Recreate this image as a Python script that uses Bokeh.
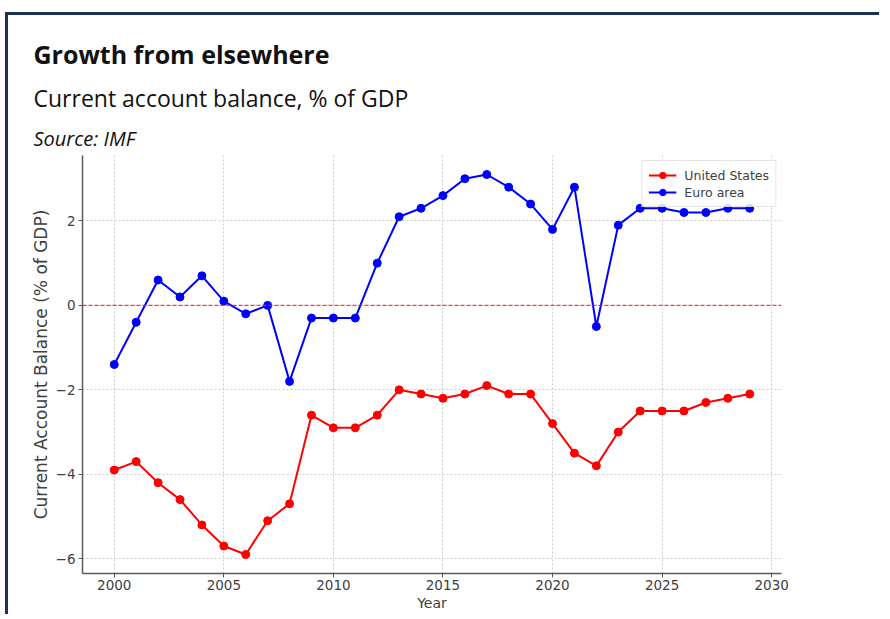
from bokeh.plotting import figure
from bokeh.models import Title, Span, Legend, LegendItem, Range1d, FixedTicker
from bokeh.embed import file_html
from bokeh.resources import INLINE

years = list(range(2000, 2030))
us = [-3.9, -3.7, -4.2, -4.6, -5.2, -5.7, -5.9, -5.1, -4.7, -2.6,
      -2.9, -2.9, -2.6, -2.0, -2.1, -2.2, -2.1, -1.9, -2.1, -2.1,
      -2.8, -3.5, -3.8, -3.0, -2.5, -2.5, -2.5, -2.3, -2.2, -2.1]
euro = [-1.4, -0.4, 0.6, 0.2, 0.7, 0.1, -0.2, 0.0, -1.8, -0.3,
        -0.3, -0.3, 1.0, 2.1, 2.3, 2.6, 3.0, 3.1, 2.8, 2.4,
        1.8, 2.8, -0.5, 1.9, 2.3, 2.3, 2.2, 2.2, 2.3, 2.3]
x_ticks = [2000, 2005, 2010, 2015, 2020, 2025, 2030]
y_ticks = [-6, -4, -2, 0, 2]
y_tick_labels = {-6: "\u22126", -4: "\u22124", -2: "\u22122", 0: "0", 2: "2"}

TXT = "#404040"
FONT = "DejaVu Sans"

p = figure(width=874, height=602, output_backend="svg", toolbar_location=None,
           x_range=Range1d(1998.55, 2030.45), y_range=Range1d(-6.35, 3.55),
           min_border_left=74, min_border_right=101, min_border_bottom=44,
           min_border_top=140)
p.styles = {"border-left": "3px solid #1c3157", "border-top": "3px solid #1c3157",
            "margin-left": "5px", "margin-top": "12px"}
p.outline_line_color = None
p.background_fill_color = "white"
p.border_fill_color = "white"

# titles (added nearest-first)
p.add_layout(Title(text="Source: IMF", text_font="Open Sans", text_font_size="20px",
                   text_font_style="italic", text_color="#111111", align="left",
                   offset=-49, standoff=8), "above")
p.add_layout(Title(text="Current account balance, % of GDP", text_font="Open Sans",
                   text_font_size="23px", text_font_style="normal", text_color="#111111",
                   align="left", offset=-49, standoff=9), "above")
p.add_layout(Title(text="Growth from elsewhere", text_font="Open Sans",
                   text_font_size="25px", text_font_style="bold", text_color="#111111",
                   align="left", offset=-49, standoff=9), "above")

# grid
for g in (p.xgrid, p.ygrid):
    g.grid_line_color = "#cccccc"
    g.grid_line_dash = "2 2"
    g.grid_line_width = 1

# axes
for ax in (p.xaxis, p.yaxis):
    ax.axis_line_color = "#5a5a5a"
    ax.axis_line_width = 1.5
    ax.major_tick_line_color = "#5a5a5a"
    ax.major_tick_out = 4
    ax.major_tick_in = 0
    ax.minor_tick_line_color = None
    ax.major_label_text_font = FONT
    ax.major_label_text_font_size = "13.5px"
    ax.major_label_text_color = TXT
    ax.axis_label_text_font = FONT
    ax.axis_label_text_font_style = "normal"
    ax.axis_label_text_color = TXT

p.xaxis.ticker = FixedTicker(ticks=x_ticks)
p.yaxis.ticker = FixedTicker(ticks=y_ticks)
p.yaxis.major_label_overrides = y_tick_labels
p.xaxis.major_label_standoff = 2
p.yaxis.major_label_standoff = 3
p.xaxis.axis_label = "Year"
p.xaxis.axis_label_text_font_size = "14px"
p.xaxis.axis_label_standoff = 2
p.yaxis.axis_label = "Current Account Balance (% of GDP)"
p.yaxis.axis_label_text_font_size = "17px"
p.yaxis.axis_label_standoff = 2

# zero line
p.add_layout(Span(location=0, dimension="width", line_color="#ff2020",
                  line_dash="4 2", line_width=1.2, line_alpha=0.85))

l_us = p.line(years, us, line_color="#ff0000", line_width=2)
s_us = p.scatter(years, us, size=8, fill_color="#ff0000", line_color="#ff0000")
l_eu = p.line(years, euro, line_color="#0000ff", line_width=2)
s_eu = p.scatter(years, euro, size=8, fill_color="#0000ff", line_color="#0000ff")

legend = Legend(items=[LegendItem(label="United States", renderers=[l_us, s_us]),
                       LegendItem(label="Euro area", renderers=[l_eu, s_eu])],
                location="top_right", margin=5, padding=6, spacing=1,
                label_text_font=FONT, label_text_font_size="12.5px",
                label_text_color=TXT, label_height=16, glyph_height=16,
                glyph_width=28, label_standoff=8,
                border_line_color="#cccccc", border_line_width=1,
                background_fill_alpha=0.85)
p.add_layout(legend)

open("out.html", "w").write(file_html(p, INLINE))
